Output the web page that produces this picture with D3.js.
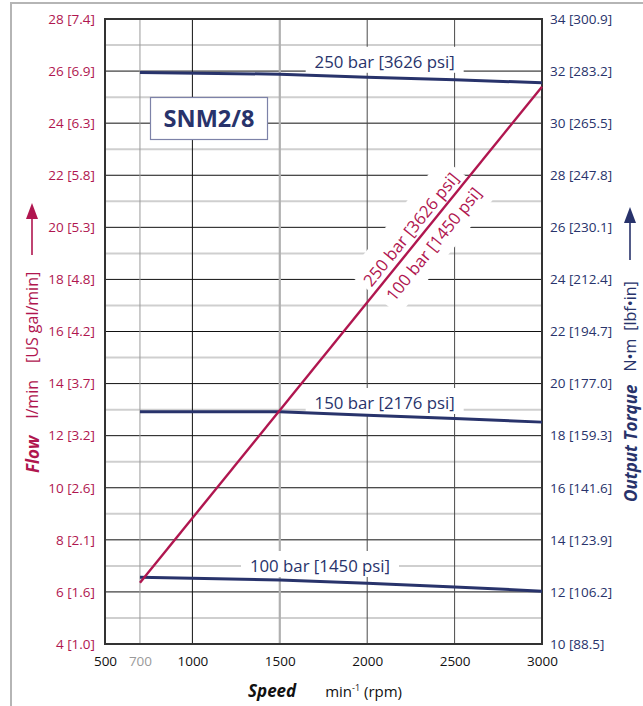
<!DOCTYPE html>
<html><head><meta charset="utf-8">
<script src="https://cdn.jsdelivr.net/npm/d3@7"></script>
<style>html,body{margin:0;padding:0;background:#fff}svg{display:block}</style>
</head><body><svg id="c" width="643" height="706"></svg>
<script>
// ---- data ----
const speedTicks = [500, 700, 1000, 1500, 2000, 2500, 3000];
const flowTicks = [4, 6, 8, 10, 12, 14, 16, 18, 20, 22, 24, 26, 28];
const flowLabels = ["4 [1.0]", "6 [1.6]", "8 [2.1]", "10 [2.6]", "12 [3.2]", "14 [3.7]", "16 [4.2]", "18 [4.8]", "20 [5.3]", "22 [5.8]", "24 [6.3]", "26 [6.9]", "28 [7.4]"];
const torqueTicks = [10, 12, 14, 16, 18, 20, 22, 24, 26, 28, 30, 32, 34];
const torqueLabels = ["10 [88.5]", "12 [106.2]", "14 [123.9]", "16 [141.6]", "18 [159.3]", "20 [177.0]", "22 [194.7]", "24 [212.4]", "26 [230.1]", "28 [247.8]", "30 [265.5]", "32 [283.2]", "34 [300.9]"];
const torqueSpeeds = [700, 1500, 2000, 2500, 3000];
const torque250 = [31.95, 31.88, 31.76, 31.67, 31.55];
const torque150 = [18.92, 18.92, 18.78, 18.66, 18.52];
const torque100 = [12.56, 12.46, 12.33, 12.19, 12.03];
const flowSpeeds = [700, 3000];
const flowValues = [6.35, 25.4];
const seriesNames = ["250 bar [3626 psi]", "150 bar [2176 psi]", "100 bar [1450 psi]"];
const modelName = "SNM2/8";

// ---- setup ----
const RED = "#b0164f", NAVY = "#28336b";
const FONT = "'Open Sans', 'Noto Sans', sans-serif";
const svg = d3.select("#c").style("font-family", FONT);
const L = 105, R = 542, T = 19, B = 644;
const x = d3.scaleLinear().domain([500, 3000]).range([L, R]);
const yF = d3.scaleLinear().domain([4, 28]).range([B, T]);
const yT = d3.scaleLinear().domain([10, 34]).range([B, T]);

// outer frame
svg.append("path").attr("d", "M11,706V3H643").attr("fill", "none").attr("stroke", "#b5b5b5").attr("stroke-width", 2);

// horizontal grid
const g = svg.append("g");
d3.range(5, 28, 2).forEach(v => {
  g.append("line").attr("x1", L).attr("x2", R).attr("y1", yF(v)).attr("y2", yF(v)).attr("stroke", "#cfcfcf").attr("stroke-width", 2);
});
flowTicks.filter(v => v > 4 && v < 28).forEach(v => {
  g.append("line").attr("x1", L).attr("x2", R).attr("y1", yF(v)).attr("y2", yF(v)).attr("stroke", "#111").attr("stroke-width", 1);
});
// vertical grid
const vStyle = {700: ["#9a9a9a", 1], 1000: ["#111", 1], 1500: ["#b0b0b0", 2.2], 2000: ["#4a4a4a", 1], 2500: ["#4a4a4a", 1]};
speedTicks.filter(v => v > 500 && v < 3000).forEach(v => {
  g.append("line").attr("x1", x(v)).attr("x2", x(v)).attr("y1", T).attr("y2", B).attr("stroke", vStyle[v][0]).attr("stroke-width", vStyle[v][1]);
});

// white backgrounds for labels
const hLabels = [
  {name: seriesNames[0], rpm: 2100, vals: torque250, up: 10},
  {name: seriesNames[1], rpm: 2100, vals: torque150, up: 7},
  {name: seriesNames[2], rpm: 1730, vals: torque100, up: 9.5}
];
const interp = (vals, rpm) => d3.scaleLinear().domain(torqueSpeeds).range(vals)(rpm);
hLabels.forEach(h => {
  h.cx = x(h.rpm);
  h.by = yT(interp(h.vals, h.rpm)) - h.up;
  svg.append("rect").attr("x", h.cx - 79).attr("y", h.by - 21).attr("width", 158).attr("height", 26).attr("fill", "#fff");
});

// diagonal flow line geometry
const p0 = [x(flowSpeeds[0]), yF(flowValues[0])], p1 = [x(flowSpeeds[1]), yF(flowValues[1])];
const ang = Math.atan2(p1[1] - p0[1], p1[0] - p0[0]) * 180 / Math.PI;
const len = Math.hypot(p1[0] - p0[0], p1[1] - p0[1]);
const t = 0.697;
const ax = p0[0] + (p1[0] - p0[0]) * t, ay = p0[1] + (p1[1] - p0[1]) * t;
const dg = svg.append("g").attr("transform", `translate(${ax},${ay}) rotate(${ang})`);
dg.append("rect").attr("x", -74).attr("y", -33).attr("width", 150).attr("height", 66).attr("fill", "#fff");

// model box
svg.append("rect").attr("x", 150.5).attr("y", 97.5).attr("width", 117).attr("height", 42).attr("fill", "#fff").attr("stroke", "#7d82a8").attr("stroke-width", 1.2);
svg.append("text").attr("x", 209).attr("y", 118).attr("text-anchor", "middle").attr("dominant-baseline", "central")
  .attr("font-weight", 700).attr("font-size", 23.5).attr("fill", NAVY).text(modelName);

// plot border
svg.append("rect").attr("x", L).attr("y", T).attr("width", R - L).attr("height", B - T).attr("fill", "none").attr("stroke", "#333").attr("stroke-width", 2);

// torque lines
const line = d3.line().x((d, i) => x(torqueSpeeds[i])).y(d => yT(d));
[torque250, torque150, torque100].forEach(s => {
  svg.append("path").datum(s).attr("d", line).attr("fill", "none").attr("stroke", NAVY).attr("stroke-width", 3);
});
// flow line
const fline = d3.line().x((d, i) => x(flowSpeeds[i])).y(d => yF(d));
svg.append("path").datum(flowValues).attr("d", fline).attr("fill", "none").attr("stroke", RED).attr("stroke-width", 2.4);

// labels on torque lines
hLabels.forEach(h => {
  svg.append("text").attr("x", h.cx).attr("y", h.by).attr("text-anchor", "middle").attr("font-size", 16.8).attr("fill", NAVY).text(h.name);
});
// labels on flow line
dg.append("text").attr("x", 0).attr("y", -6).attr("text-anchor", "middle").attr("font-size", 16.8).attr("fill", RED).text(seriesNames[0]);
dg.append("text").attr("x", 3).attr("y", 21).attr("text-anchor", "middle").attr("font-size", 16.8).attr("fill", RED).text(seriesNames[2]);

// axes
const axL = svg.append("g").attr("transform", `translate(${L - 10},0)`)
  .call(d3.axisLeft(yF).tickValues(flowTicks).tickFormat((d, i) => flowLabels[i]).tickSize(0).tickPadding(0));
axL.select(".domain").remove();
axL.selectAll("text").attr("fill", RED).attr("font-size", 13.5).attr("font-family", FONT);

const axR = svg.append("g").attr("transform", `translate(${R + 8},0)`)
  .call(d3.axisRight(yT).tickValues(torqueTicks).tickFormat((d, i) => torqueLabels[i]).tickSize(0).tickPadding(0));
axR.select(".domain").remove();
axR.selectAll("text").attr("fill", NAVY).attr("font-size", 13.5).attr("font-family", FONT);

const axB = svg.append("g").attr("transform", `translate(0,${B + 12})`)
  .call(d3.axisBottom(x).tickValues(speedTicks).tickFormat(d3.format("d")).tickSize(0).tickPadding(0));
axB.select(".domain").remove();
axB.selectAll("text").attr("fill", d => d === 700 ? "#9a9a9a" : "#111").attr("font-size", 13.5).attr("font-family", FONT);

// axis titles
const lt = svg.append("text").attr("transform", "translate(32,473) rotate(-90)").attr("dominant-baseline", "central").attr("fill", RED).attr("font-size", 16);
lt.append("tspan").attr("font-weight", 700).attr("font-style", "italic").attr("font-size", 17).text("Flow");
lt.append("tspan").attr("dx", 17).text("l/min");
lt.append("tspan").attr("dx", 17).text("[US gal/min]");
svg.append("line").attr("x1", 32).attr("x2", 32).attr("y1", 255).attr("y2", 216).attr("stroke", RED).attr("stroke-width", 1.6);
svg.append("path").attr("d", "M32,203L38,219L26,219Z").attr("fill", RED);

const rt = svg.append("text").attr("transform", "translate(630,502) rotate(-90)").attr("dominant-baseline", "central").attr("fill", NAVY).attr("font-size", 16);
rt.append("tspan").attr("font-weight", 700).attr("font-style", "italic").attr("font-size", 17).text("Output Torque");
rt.append("tspan").attr("dx", 13).text("N•m");
rt.append("tspan").attr("dx", 8).text("[lbf•in]");
svg.append("line").attr("x1", 630).attr("x2", 630).attr("y1", 260).attr("y2", 220).attr("stroke", NAVY).attr("stroke-width", 1.6);
svg.append("path").attr("d", "M630,207L636,223L624,223Z").attr("fill", NAVY);

const bt = svg.append("text").attr("x", 248).attr("y", 697).attr("fill", "#111").attr("font-size", 15);
bt.append("tspan").attr("font-weight", 700).attr("font-style", "italic").attr("font-size", 17).text("Speed");
bt.append("tspan").attr("dx", 29).text("min");
bt.append("tspan").attr("font-size", 9).attr("dy", -6).text("-1");
bt.append("tspan").attr("dy", 6).text(" (rpm)");
</script></body></html>
